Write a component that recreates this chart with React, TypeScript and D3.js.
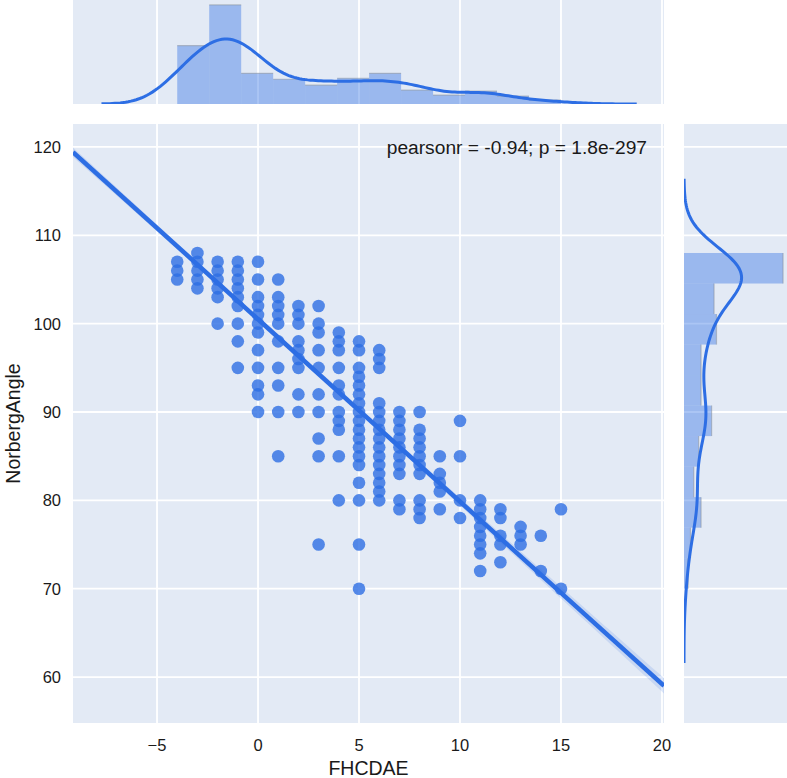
import React from "react";
import * as d3 from "d3";

// ---------- data ----------
const xLabel = "FHCDAE";
const yLabel = "NorbergAngle";
const statText = "pearsonr = -0.94; p = 1.8e-297";

const xTickValues = [-5, 0, 5, 10, 15, 20];
const yTickValues = [60, 70, 80, 90, 100, 110, 120];
const xLimits = [-9.16, 20.1];
const yLimits = [54.8, 122.6];

// scatter: unique (x, y) positions, grouped by x column
const columnX = [-4, -3, -2, -1, 0, 1, 2, 3, 4, 5, 6, 7, 8, 9, 10, 11, 12, 13, 14, 15];
const columnY = [
  [105, 106, 107],
  [104, 105, 106, 107, 108],
  [100, 103, 104, 105, 106, 107],
  [95, 98, 100, 102, 103, 104, 105, 106, 107],
  [90, 92, 93, 95, 97, 99, 100, 101, 102, 103, 105, 107],
  [85, 90, 93, 95, 98, 100, 101, 102, 103, 105],
  [90, 92, 95, 96, 97, 98, 100, 101, 102],
  [75, 85, 87, 90, 92, 95, 97, 99, 100, 102],
  [80, 85, 88, 89, 90, 92, 93, 95, 97, 98, 99],
  [70, 75, 80, 82, 84, 85, 86, 87, 88, 89, 90, 91, 92, 93, 94, 95, 97, 98],
  [80, 81, 82, 83, 84, 85, 86, 87, 88, 89, 90, 91, 95, 96, 97],
  [79, 80, 83, 84, 85, 86, 87, 88, 89, 90],
  [78, 79, 80, 83, 84, 85, 86, 87, 88, 90],
  [79, 81, 82, 83, 85],
  [78, 80, 85, 89],
  [72, 74, 75, 76, 77, 78, 79, 80],
  [73, 75, 76, 78, 79],
  [75, 76, 77],
  [72, 76],
  [70, 79],
];

// marginal counts per integer value (observations stacked on the same spot)
const xValues = [-4, -3, -2, -1, 0, 1, 2, 3, 4, 5, 6, 7, 8, 9, 10, 11, 12, 13, 14, 15];
const xCounts = [24, 35, 48, 52, 31, 13, 12, 19, 11, 15, 17, 14, 14, 5, 4, 13, 5, 3, 2, 2];
const yValues = [
  70, 71, 72, 73, 74, 75, 76, 77, 78, 79, 80, 81, 82, 83, 84, 85, 86, 87, 88, 89,
  90, 91, 92, 93, 94, 95, 96, 97, 98, 99, 100, 101, 102, 103, 104, 105, 106, 107, 108,
];
const yCounts = [
  2, 0, 2, 1, 1, 3, 4, 2, 4, 6, 9, 3, 4, 5, 2, 7, 4, 5, 10, 9,
  15, 5, 6, 7, 3, 11, 3, 7, 11, 7, 14, 8, 11, 12, 14, 42, 36, 36, 8,
];
const xBinCount = 12;
const yBinCount = 11;
const xBandwidth = 1.25;
const yBandwidth = 2.8;

// regression
const regSlope = -2.064;
const regIntercept = 100.5;
const regN = 339;
const regXMean = 1.66;
const regSxx = 7438;
const regResidSd = 2.0;
const regT = 1.97;

// ---------- styling ----------
const W = 787;
const H = 778;
const M = { left: 73, right: 664, top: 124, bottom: 723 };
const TOP = { top: 0, bottom: 104 };
const RIGHT = { left: 684, right: 788 };
const BG = "#E3EAF5";
const BLUE = "rgb(45,110,228)";
const FONT = "Liberation Sans, Arial, Helvetica, sans-serif";
const TEXT = "#1a1a1a";

function hist(values: number[], counts: number[], nBins: number) {
  const lo = d3.min(values)!;
  const hi = d3.max(values)!;
  const w = (hi - lo) / nBins;
  const n = d3.sum(counts);
  const bins = d3.range(nBins).map((i) => ({ x0: lo + i * w, x1: lo + (i + 1) * w, c: 0 }));
  values.forEach((v, i) => {
    const k = Math.min(nBins - 1, Math.floor((v - lo) / w + 1e-9));
    bins[k].c += counts[i];
  });
  return bins.map((b) => ({ ...b, d: b.c / (n * w) }));
}

function kde(values: number[], counts: number[], bw: number) {
  const lo = d3.min(values)! - 3 * bw;
  const hi = d3.max(values)! + 3 * bw;
  const n = d3.sum(counts);
  const pts: [number, number][] = [];
  const steps = 200;
  for (let i = 0; i <= steps; i++) {
    const x = lo + ((hi - lo) * i) / steps;
    let s = 0;
    values.forEach((v, j) => {
      const z = (x - v) / bw;
      s += counts[j] * Math.exp(-0.5 * z * z);
    });
    pts.push([x, s / (n * bw * Math.sqrt(2 * Math.PI))]);
  }
  return pts;
}

export default function App() {
  const x = d3.scaleLinear().domain(xLimits).range([M.left, M.right]);
  const y = d3.scaleLinear().domain(yLimits).range([M.bottom, M.top]);

  const xh = hist(xValues, xCounts, xBinCount);
  const yh = hist(yValues, yCounts, yBinCount);
  const xk = kde(xValues, xCounts, xBandwidth);
  const yk = kde(yValues, yCounts, yBandwidth);

  const xMax = Math.max(d3.max(xh, (b) => b.d)!, d3.max(xk, (p) => p[1])!) * 1.05;
  const yMax = Math.max(d3.max(yh, (b) => b.d)!, d3.max(yk, (p) => p[1])!) * 1.05;
  const topD = d3.scaleLinear().domain([0, xMax]).range([TOP.bottom, TOP.top]);
  const rightD = d3.scaleLinear().domain([0, yMax]).range([RIGHT.left, RIGHT.right]);

  const topLine = d3.line<[number, number]>().x((p) => x(p[0])).y((p) => topD(p[1]))(xk) || "";
  const rightLine = d3.line<[number, number]>().x((p) => rightD(p[1])).y((p) => y(p[0]))(yk) || "";

  const regXs = d3.range(0, 101).map((i) => xLimits[0] + ((xLimits[1] - xLimits[0]) * i) / 100);
  const half = (xv: number) =>
    regT * regResidSd * Math.sqrt(1 / regN + ((xv - regXMean) * (xv - regXMean)) / regSxx);
  const band =
    d3
      .area<number>()
      .x((xv) => x(xv))
      .y0((xv) => y(regIntercept + regSlope * xv - half(xv)))
      .y1((xv) => y(regIntercept + regSlope * xv + half(xv)))(regXs) || "";

  const points: [number, number][] = [];
  columnX.forEach((cx, i) => columnY[i].forEach((cy) => points.push([cx, cy])));

  const gridW = 1.8;

  return (
    <svg
      width={W}
      height={H}
      style={{ position: "absolute", left: 0, top: 0, background: "#fff" }}
      fontFamily={FONT}
    >
      <defs>
        <clipPath id="mainClip">
          <rect x={M.left} y={M.top} width={M.right - M.left} height={M.bottom - M.top} />
        </clipPath>
        <clipPath id="topClip">
          <rect x={M.left} y={TOP.top} width={M.right - M.left} height={TOP.bottom - TOP.top} />
        </clipPath>
        <clipPath id="rightClip">
          <rect x={RIGHT.left} y={M.top} width={RIGHT.right - RIGHT.left} height={M.bottom - M.top} />
        </clipPath>
      </defs>

      {/* top marginal */}
      <rect x={M.left} y={TOP.top} width={M.right - M.left} height={TOP.bottom - TOP.top} fill={BG} />
      {xTickValues.map((t) => (
        <line key={"tg" + t} x1={x(t)} x2={x(t)} y1={TOP.top} y2={TOP.bottom} stroke="#fff" strokeWidth={gridW} />
      ))}
      <g clipPath="url(#topClip)">
        {xh.map((b, i) => (
          <g key={"xb" + i}>
            <rect
              x={x(b.x0)}
              y={topD(b.d)}
              width={x(b.x1) - x(b.x0)}
              height={TOP.bottom - topD(b.d)}
              fill={BLUE}
              fillOpacity={0.4}
            />
            <line x1={x(b.x0)} x2={x(b.x1)} y1={topD(b.d)} y2={topD(b.d)} stroke="#8a8f99" strokeOpacity={0.5} strokeWidth={1.2} />
          </g>
        ))}
        <path d={topLine} fill="none" stroke={BLUE} strokeWidth={3} />
      </g>

      {/* right marginal */}
      <rect x={RIGHT.left} y={M.top} width={RIGHT.right - RIGHT.left} height={M.bottom - M.top} fill={BG} />
      {yTickValues.map((t) => (
        <line key={"rg" + t} x1={RIGHT.left} x2={RIGHT.right} y1={y(t)} y2={y(t)} stroke="#fff" strokeWidth={gridW} />
      ))}
      <g clipPath="url(#rightClip)">
        {yh.map((b, i) => (
          <g key={"yb" + i}>
            <rect
              x={RIGHT.left}
              y={y(b.x1)}
              width={rightD(b.d) - RIGHT.left}
              height={y(b.x0) - y(b.x1)}
              fill={BLUE}
              fillOpacity={0.4}
            />
            <line x1={rightD(b.d)} x2={rightD(b.d)} y1={y(b.x1)} y2={y(b.x0)} stroke="#8a8f99" strokeOpacity={0.5} strokeWidth={1.2} />
          </g>
        ))}
        <path d={rightLine} fill="none" stroke={BLUE} strokeWidth={3} />
      </g>

      {/* main panel */}
      <rect x={M.left} y={M.top} width={M.right - M.left} height={M.bottom - M.top} fill={BG} />
      {xTickValues.map((t) => (
        <line key={"xg" + t} x1={x(t)} x2={x(t)} y1={M.top} y2={M.bottom} stroke="#fff" strokeWidth={gridW} />
      ))}
      {yTickValues.map((t) => (
        <line key={"yg" + t} x1={M.left} x2={M.right} y1={y(t)} y2={y(t)} stroke="#fff" strokeWidth={gridW} />
      ))}
      <g clipPath="url(#mainClip)">
        {points.map((p, i) => (
          <circle key={"p" + i} cx={x(p[0])} cy={y(p[1])} r={6.3} fill={BLUE} fillOpacity={0.8} />
        ))}
        <path d={band} fill={BLUE} fillOpacity={0.15} />
        <line
          x1={x(xLimits[0])}
          y1={y(regIntercept + regSlope * xLimits[0])}
          x2={x(xLimits[1])}
          y2={y(regIntercept + regSlope * xLimits[1])}
          stroke={BLUE}
          strokeWidth={4.5}
        />
      </g>

      <text x={647} y={154} textAnchor="end" fontSize={19.2} fill={TEXT}>
        {statText}
      </text>

      {/* axes text */}
      {xTickValues.map((t) => (
        <text key={"xt" + t} x={x(t)} y={751} textAnchor="middle" fontSize={16.5} fill={TEXT}>
          {t < 0 ? "\u2212" + Math.abs(t) : String(t)}
        </text>
      ))}
      {yTickValues.map((t) => (
        <text key={"yt" + t} x={61} y={y(t) + 6} textAnchor="end" fontSize={16.5} fill={TEXT}>
          {t}
        </text>
      ))}
      <text x={(M.left + M.right) / 2} y={775} textAnchor="middle" fontSize={19.5} fill={TEXT}>
        {xLabel}
      </text>
      <text
        transform={`translate(20,${(M.top + M.bottom) / 2}) rotate(-90)`}
        textAnchor="middle"
        fontSize={19.5}
        fill={TEXT}
      >
        {yLabel}
      </text>
    </svg>
  );
}
